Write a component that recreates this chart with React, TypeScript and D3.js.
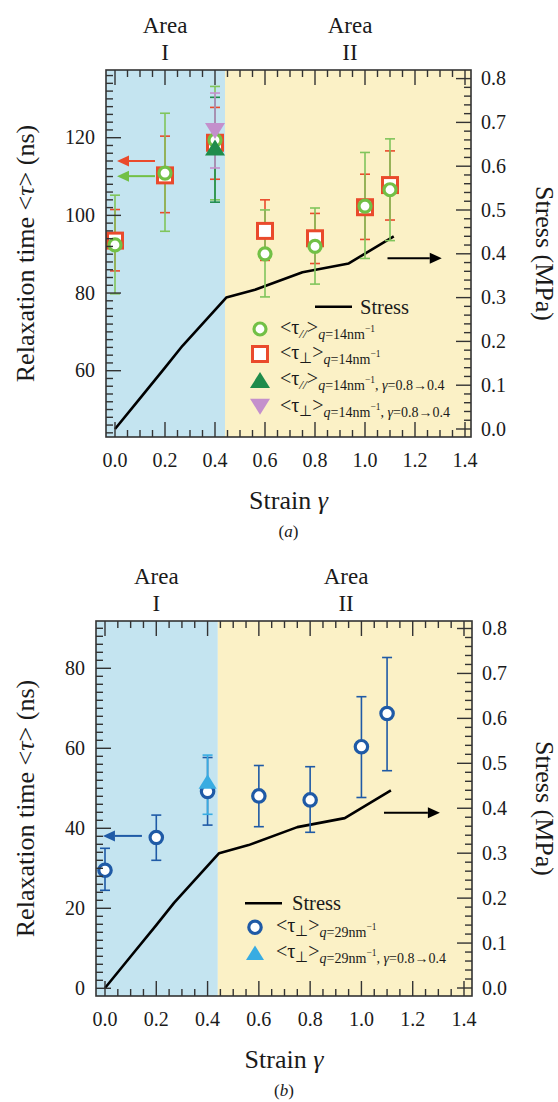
import React from 'react';
import * as d3 from 'd3';

// ---------- data ----------
const strainPts = [0, 0.2, 0.4, 0.6, 0.8, 1.0, 1.1];

// panel (a): q = 14 nm^-1
const tauParA = [92.4, 110.9, 119.4, 90.1, 92.0, 102.4, 106.6];
const tauParALow = [79.8, 95.9, 104.0, 79.0, 82.3, 88.9, 93.5];
const tauParAHigh = [105.2, 126.3, 133.2, 101.4, 101.9, 116.2, 119.7];
const tauPerpA = [93.5, 110.3, 118.7, 96.0, 94.1, 102.1, 107.8];
const tauPerpALow = [85.7, 100.7, 109.3, 88.4, 87.6, 93.8, 98.8];
const tauPerpAHigh = [101.5, 120.4, 127.8, 104.0, 100.5, 110.6, 116.6];

const strainRev = [0.4];
const tauParRevA = [117.5];
const tauParRevALow = [103.4];
const tauParRevAHigh = [130.4];
const tauPerpRevA = [121.7];
const tauPerpRevALow = [112.2];
const tauPerpRevAHigh = [131.5];

// panel (b): q = 29 nm^-1
const tauPerpB = [29.5, 37.7, 49.2, 48.1, 47.1, 60.4, 68.7];
const tauPerpBLow = [24.5, 32.0, 40.8, 40.4, 39.0, 47.7, 54.4];
const tauPerpBHigh = [35.0, 43.3, 57.7, 55.7, 55.4, 72.9, 82.7];
const tauPerpRevB = [51.7];
const tauPerpRevBLow = [43.5];
const tauPerpRevBHigh = [58.3];

// stress-strain curve (MPa)
const stressStrain = [0, 0.1, 0.2, 0.27, 0.445, 0.56, 0.75, 0.935, 1.115];
const stressValues = [0, 0.07, 0.14, 0.19, 0.3, 0.318, 0.358, 0.378, 0.44];

const xTickValues = [0, 0.2, 0.4, 0.6, 0.8, 1.0, 1.2, 1.4];
const leftTicksA = [60, 80, 100, 120];
const leftTicksB = [0, 20, 40, 60, 80];
const rightTicks = [0, 0.1, 0.2, 0.3, 0.4, 0.5, 0.6, 0.7, 0.8];
const areaBoundary = 0.44;

// ---------- style ----------
const FONT = "'Liberation Serif', 'Times New Roman', Times, serif";
const C = {
  blueArea: '#c4e4f0',
  yellowArea: '#fbf1c6',
  green: '#72c046',
  greenErr: '#80c55c',
  red: '#ea4a2c',
  dkgreen: '#1f8c4b',
  purple: '#c490cc',
  blue: '#1f5aa6',
  ltblue: '#38ace2',
  axis: '#333333',
  text: '#1a1a1a',
};

type Series = {
  xs: number[];
  ys: number[];
  lo: number[];
  hi: number[];
  color: string;
  errColor: string;
  marker: 'circle' | 'square' | 'tri' | 'dtri';
  size: number;
  stroke?: number;
  legend: { sym: string; q: string; rev: boolean };
};

type Arrow = { x1: number; x2: number; y: number; axis: 'left' | 'right'; color: string };

type PanelCfg = {
  left: number; right: number; top: number; bottom: number;
  x0: number; x14: number;
  leftDomain: [number, number]; leftRange: [number, number];
  rightRange: [number, number];
  leftTicks: number[];
  series: Series[];
  arrows: Arrow[];
  legend: { lx1: number; lx2: number; ly: number; tx: number; mx: number; rows: number[]; ttx: number };
  tag: string;
  tagOffset: number;
  minorLeft: [number, number];
};

function markerPath(type: string, cx: number, cy: number, s: number) {
  const w = s, h = s * 0.8;
  if (type === 'tri') {
    return `M${cx - w / 2},${cy + h / 2}L${cx + w / 2},${cy + h / 2}L${cx},${cy - h / 2}Z`;
  }
  return `M${cx - w / 2},${cy - h / 2}L${cx + w / 2},${cy - h / 2}L${cx},${cy + h / 2}Z`;
}

function Marker({ s, cx, cy }: { s: Series; cx: number; cy: number }) {
  if (s.marker === 'circle')
    return <circle cx={cx} cy={cy} r={s.size} fill="#fff" stroke={s.color} strokeWidth={s.stroke ?? 3.2} />;
  if (s.marker === 'square')
    return (
      <rect x={cx - s.size / 2} y={cy - s.size / 2} width={s.size} height={s.size}
        fill="#fff" stroke={s.color} strokeWidth={s.stroke ?? 3} />
    );
  return <path d={markerPath(s.marker, cx, cy, s.size)} fill={s.color} />;
}

function TauLabel({ x, y, sym, q, rev }: { x: number; y: number; sym: string; q: string; rev: boolean }) {
  return (
    <text x={x} y={y + 5} fontSize={20} fill={C.text}>
      &lt;τ
      <tspan dy={4} fontSize={sym === '//' ? 13.5 : 14.5} fontStyle={sym === '//' ? 'italic' : 'normal'}>{sym}</tspan>
      <tspan dy={-4} fontSize={20}>&gt;</tspan>
      <tspan dy={5} fontSize={14} fontStyle="italic">q</tspan>
      <tspan fontSize={14}>={q}nm</tspan>
      <tspan dy={-7} fontSize={9.5}>−1</tspan>
      {rev ? (
        <>
          <tspan dy={7} fontSize={14}>, </tspan>
          <tspan fontSize={14} fontStyle="italic">γ</tspan>
          <tspan fontSize={14}>=0.8→0.4</tspan>
        </>
      ) : null}
    </text>
  );
}

function Panel({ cfg }: { cfg: PanelCfg }) {
  const { left, right, top, bottom } = cfg;
  const x = d3.scaleLinear().domain([0, 1.4]).range([cfg.x0, cfg.x14]);
  const yl = d3.scaleLinear().domain(cfg.leftDomain).range(cfg.leftRange);
  const yr = d3.scaleLinear().domain([0, 0.8]).range(cfg.rightRange);
  const majorLen = 15, minorLen = 7;

  const xMinor = d3.range(0, 29).map((i) => ({ v: i * 0.05, major: i % 4 === 0 }));
  const lMinor = d3.range(cfg.minorLeft[0], cfg.minorLeft[1] + 1)
    .map((i) => ({ v: i * 2, major: (i * 2) % 20 === 0 }))
    .filter((t) => yl(t.v) > top + 1 && yl(t.v) < bottom - 1);
  const rMinor = d3.range(0, 42).map((i) => ({ v: i * 0.02, major: i % 5 === 0 }))
    .filter((t) => yr(t.v) > top + 1 && yr(t.v) < bottom - 1);

  const line = d3.line<number>()
    .x((_, i) => x(stressStrain[i]))
    .y((d) => yr(d));

  const bx = x(areaBoundary);
  const cx = (left + right) / 2;
  const cy = (top + bottom) / 2;
  const lg = cfg.legend;

  return (
    <g>
      {/* areas */}
      <rect x={left} y={top} width={bx - left} height={bottom - top} fill={C.blueArea} />
      <rect x={bx} y={top} width={right - bx} height={bottom - top} fill={C.yellowArea} />

      {/* area labels */}
      <text x={x(0.2)} y={top - 37} textAnchor="middle" fontSize={23} fill={C.text}>Area</text>
      <text x={x(0.2)} y={top - 10} textAnchor="middle" fontSize={23} fill={C.text}>I</text>
      <text x={x(0.94)} y={top - 37} textAnchor="middle" fontSize={23} fill={C.text}>Area</text>
      <text x={x(0.94)} y={top - 10} textAnchor="middle" fontSize={23} fill={C.text}>II</text>

      {/* stress line */}
      <path d={line(stressValues) ?? ''} fill="none" stroke="#000" strokeWidth={2.6} strokeLinejoin="round" />

      {/* error bars */}
      {cfg.series.map((s, si) => (
        <g key={'e' + si} stroke={s.errColor} strokeWidth={1.6}>
          {s.xs.map((xv, i) => {
            const px = x(xv);
            return (
              <g key={i}>
                <line x1={px} x2={px} y1={yl(s.lo[i])} y2={yl(s.hi[i])} />
                <line x1={px - 5} x2={px + 5} y1={yl(s.lo[i])} y2={yl(s.lo[i])} />
                <line x1={px - 5} x2={px + 5} y1={yl(s.hi[i])} y2={yl(s.hi[i])} />
              </g>
            );
          })}
        </g>
      ))}

      {/* markers */}
      {cfg.series.map((s, si) => (
        <g key={'m' + si}>
          {s.xs.map((xv, i) => <Marker key={i} s={s} cx={x(xv)} cy={yl(s.ys[i])} />)}
        </g>
      ))}

      {/* arrows */}
      {cfg.arrows.map((a, i) => {
        const py = a.axis === 'left' ? yl(a.y) : yr(a.y);
        const p1 = x(a.x1), p2 = x(a.x2);
        const dir = p2 > p1 ? 1 : -1;
        const hl = 12, hw = 5.5;
        return (
          <g key={'a' + i}>
            <line x1={p1} x2={p2 - dir * hl} y1={py} y2={py} stroke={a.color} strokeWidth={2} />
            <path d={`M${p2},${py}L${p2 - dir * hl},${py - hw}L${p2 - dir * hl},${py + hw}Z`} fill={a.color} />
          </g>
        );
      })}

      {/* legend */}
      <line x1={lg.lx1} x2={lg.lx2} y1={lg.ly} y2={lg.ly} stroke="#000" strokeWidth={2.6} />
      <text x={lg.tx} y={lg.ly + 7} fontSize={20.5} fill={C.text}>Stress</text>
      {cfg.series.map((s, si) => (
        <g key={'l' + si}>
          <Marker s={s} cx={lg.mx} cy={lg.rows[si]} />
          <TauLabel x={lg.ttx} y={lg.rows[si]} sym={s.legend.sym} q={s.legend.q} rev={s.legend.rev} />
        </g>
      ))}

      {/* frame */}
      <rect x={left} y={top} width={right - left} height={bottom - top} fill="none" stroke={C.axis} strokeWidth={1.6} />

      {/* ticks */}
      <g stroke={C.axis} strokeWidth={1.4}>
        {xMinor.map((t, i) => {
          const px = x(t.v);
          const L = t.major ? majorLen : minorLen;
          return (
            <g key={'xt' + i}>
              <line x1={px} x2={px} y1={top} y2={top + L} />
              <line x1={px} x2={px} y1={bottom} y2={bottom - L} />
            </g>
          );
        })}
        {lMinor.map((t, i) => {
          const py = yl(t.v);
          return <line key={'lt' + i} x1={left} x2={left + (t.major ? majorLen : minorLen)} y1={py} y2={py} />;
        })}
        {rMinor.map((t, i) => {
          const py = yr(t.v);
          return <line key={'rt' + i} x1={right} x2={right - (t.major ? majorLen : minorLen)} y1={py} y2={py} />;
        })}
      </g>

      {/* tick labels */}
      <g fontSize={20} fill={C.text}>
        {xTickValues.map((v) => (
          <text key={'xl' + v} x={x(v)} y={bottom + 30} textAnchor="middle">{d3.format('.1f')(v)}</text>
        ))}
        {cfg.leftTicks.map((v) => (
          <text key={'ll' + v} x={left - 11} y={yl(v) + 6.5} textAnchor="end">{v}</text>
        ))}
        {rightTicks.map((v) => (
          <text key={'rl' + v} x={right + 10} y={yr(v) + 6.5} textAnchor="start">{d3.format('.1f')(v)}</text>
        ))}
      </g>

      {/* axis titles */}
      <text x={cx} y={bottom + 72} textAnchor="middle" fontSize={26} fill={C.text}>
        Strain <tspan fontStyle="italic">γ</tspan>
      </text>
      <text x={cx} y={bottom + cfg.tagOffset} textAnchor="middle" fontSize={17} fill={C.text}>
        (<tspan fontStyle="italic">{cfg.tag}</tspan>)
      </text>
      <text transform={`translate(25,${cy}) rotate(-90)`} textAnchor="middle" dominantBaseline="central" fontSize={26} fill={C.text}>
        Relaxation time &lt;<tspan fontStyle="italic">τ</tspan>&gt; (ns)
      </text>
      <text transform={`translate(544,${cy}) rotate(90)`} textAnchor="middle" dominantBaseline="central" fontSize={26} fill={C.text}>
        Stress (MPa)
      </text>
    </g>
  );
}

const panelA: PanelCfg = {
  left: 106, right: 471, top: 70, bottom: 437,
  x0: 115, x14: 465,
  leftDomain: [60, 120], leftRange: [370.7, 137.7],
  rightRange: [429, 78.6],
  leftTicks: leftTicksA,
  minorLeft: [21, 69],
  series: [
    { xs: strainPts, ys: tauPerpA, lo: tauPerpALow, hi: tauPerpAHigh, color: C.red, errColor: C.red, marker: 'square', size: 15,
      legend: { sym: '⊥', q: '14', rev: false } },
    { xs: strainPts, ys: tauParA, lo: tauParALow, hi: tauParAHigh, color: C.green, errColor: C.greenErr, marker: 'circle', size: 6,
      legend: { sym: '//', q: '14', rev: false } },
    { xs: strainRev, ys: tauParRevA, lo: tauParRevALow, hi: tauParRevAHigh, color: C.dkgreen, errColor: C.dkgreen, marker: 'tri', size: 20,
      legend: { sym: '//', q: '14', rev: true } },
    { xs: strainRev, ys: tauPerpRevA, lo: tauPerpRevALow, hi: tauPerpRevAHigh, color: C.purple, errColor: C.purple, marker: 'dtri', size: 20,
      legend: { sym: '⊥', q: '14', rev: true } },
  ],
  arrows: [
    { x1: 0.16, x2: 0.008, y: 114.0, axis: 'left', color: C.red },
    { x1: 0.16, x2: 0.008, y: 110.1, axis: 'left', color: C.green },
    { x1: 1.09, x2: 1.307, y: 0.39, axis: 'right', color: '#000' },
  ],
  legend: { lx1: 315, lx2: 352, ly: 306.7, tx: 360, mx: 260, rows: [354, 329, 380, 406.7], ttx: 280 },
  tag: 'a',
  tagOffset: 100,
};

const panelB: PanelCfg = {
  left: 96, right: 472, top: 621, bottom: 996,
  x0: 105, x14: 464,
  leftDomain: [0, 80], leftRange: [988.3, 668.3],
  rightRange: [988, 628.5],
  leftTicks: leftTicksB,
  minorLeft: [0, 46],
  series: [
    { xs: strainPts, ys: tauPerpB, lo: tauPerpBLow, hi: tauPerpBHigh, color: C.blue, errColor: C.blue, marker: 'circle', size: 6.2,
      legend: { sym: '⊥', q: '29', rev: false } },
    { xs: strainRev, ys: tauPerpRevB, lo: tauPerpRevBLow, hi: tauPerpRevBHigh, color: C.ltblue, errColor: C.ltblue, marker: 'tri', size: 18,
      legend: { sym: '⊥', q: '29', rev: true } },
  ],
  arrows: [
    { x1: 0.144, x2: -0.008, y: 38.1, axis: 'left', color: C.blue },
    { x1: 1.088, x2: 1.306, y: 0.39, axis: 'right', color: '#000' },
  ],
  legend: { lx1: 245, lx2: 282, ly: 903.3, tx: 292, mx: 255, rows: [927.3, 952.7], ttx: 276 },
  tag: 'b',
  tagOffset: 100,
};

export default function App() {
  return (
    <svg width={558} height={1102} viewBox="0 0 558 1102"
      style={{ position: 'absolute', left: 0, top: 0, background: '#fff' }}
      fontFamily={FONT}>
      <rect x={0} y={0} width={558} height={1102} fill="#fff" />
      <Panel cfg={panelA} />
      <Panel cfg={panelB} />
    </svg>
  );
}
